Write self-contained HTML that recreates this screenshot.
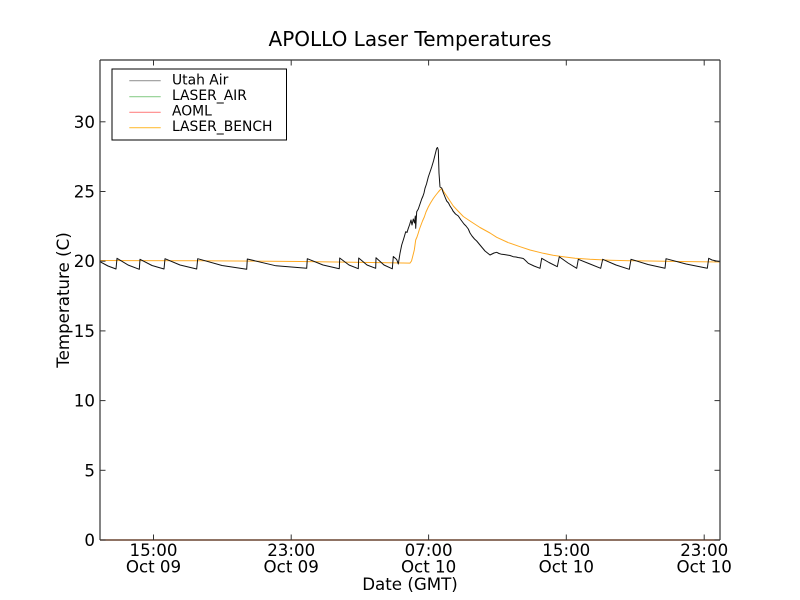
<!DOCTYPE html>
<html>
<head>
<meta charset="utf-8">
<style>
html,body{margin:0;padding:0;background:#fff;}
svg{display:block;}
text{font-family:"DejaVu Sans","Liberation Sans",sans-serif;fill:#000;}
</style>
</head>
<body>
<svg width="800" height="600" viewBox="0 0 800 600" xmlns="http://www.w3.org/2000/svg">
<rect x="0" y="0" width="800" height="600" fill="#fff"/>
<rect x="100" y="60" width="620" height="480" fill="#fff"/>

<!-- LASER_BENCH (orange) -->
<polyline fill="none" stroke="#ffaa22" stroke-width="1" stroke-linejoin="round"
points="100,260.5 200,260.8 300,261.5 380,262.6 410,263.1 411.5,261 412.3,258 413.3,254 414.3,250 415,245 415.7,240 417,237 418.3,233 419.5,229 421,225 422.5,221 424.3,217 426,212 428.3,207 430.5,203 433.3,198.5 435.5,195.5 438.3,192 440,190 441.7,188.3 444,192 446.7,196 450,201 453.3,206 458,211 463.3,216.5 470,221 480,227.5 490,233 496.7,237.3 508,242.5 520,246.7 530,250 543.3,253.3 553,255.2 563.3,256.7 575,258.2 590,259.3 610,260.2 630,260.7 680,261.5 720,262"/>

<!-- Utah Air (black) -->
<polyline fill="none" stroke="#111" stroke-width="1" stroke-linejoin="round"
points="100,261.7 108,266 116,269 117,258.3 128,265 139.3,269.3 140,259.3 152,265.5 164,269 165,258.7 180,265 196.7,269 197.7,258.7 222,265.5 246.7,269.3 247.3,259 276,265.8 306.7,268.3 307.3,258.7 323,265 339.3,268.7 339.7,258 349,265 358.3,268.7 358.7,258 367,265 375.7,268.3 376,257.7 384,265 392.3,268.8 393.3,256.5 396.7,259.5 398.3,264 400,253.3 401.7,245 403.3,240 404.5,236 405.7,231.7 407,232.5 408.3,228.3 409.5,225 411,220 412,225 413.3,219 414.5,223 415.3,216 415.7,228.3 416.7,211.7 418.3,209 420,204 421.7,199 423,196 424,193 425,188.3 426.5,184 428.3,177 430,172 431.7,167 433.5,161 435,155 436.7,148.3 437.5,147.5 438.3,150 439,173 440,187 441.7,188 443,192 445,197 446.7,201 448.5,203 450,206 452,209 453,211 455.5,214 458.3,216 461,220 464,224 466,226 468.3,229 470,233 472,236 474.5,239 476.7,241 480,245 482.5,248 485,251 487.5,253 490,255 492,254 494,253 496.7,252.3 499,253.5 501.7,254.3 504,254.5 507,255 510,255.5 513.3,256.7 516,257 518,257.5 521,258 523.3,258.5 525.5,260.5 528.3,263.3 534,266 540,268.3 541.7,258.3 549,262.5 557.3,266.7 559.3,256.7 561,258 568,263 576.7,268.3 578.3,259.3 590,264 600.7,268.3 602.7,259.3 616,265 629.3,269.3 631,259.3 648,264.5 665,268.3 666,258.7 686,264 707.3,268.3 708.7,258.3 712,260 720,261.7"/>

<!-- spines -->
<line x1="100" y1="60" x2="720" y2="60" stroke="#333" stroke-width="1.2"/>
<line x1="100" y1="60" x2="100" y2="540" stroke="#333" stroke-width="1.2"/>
<line x1="720" y1="60" x2="720" y2="540" stroke="#333" stroke-width="1.2"/>
<line x1="100" y1="540" x2="720" y2="540" stroke="#6a4530" stroke-width="1.4"/>

<!-- y ticks -->
<g stroke="#333" stroke-width="1">
<line x1="100" y1="540" x2="105.5" y2="540"/><line x1="720" y1="540" x2="714.5" y2="540"/>
<line x1="100" y1="470.3" x2="105.5" y2="470.3"/><line x1="720" y1="470.3" x2="714.5" y2="470.3"/>
<line x1="100" y1="400.6" x2="105.5" y2="400.6"/><line x1="720" y1="400.6" x2="714.5" y2="400.6"/>
<line x1="100" y1="330.9" x2="105.5" y2="330.9"/><line x1="720" y1="330.9" x2="714.5" y2="330.9"/>
<line x1="100" y1="261.2" x2="105.5" y2="261.2"/><line x1="720" y1="261.2" x2="714.5" y2="261.2"/>
<line x1="100" y1="191.5" x2="105.5" y2="191.5"/><line x1="720" y1="191.5" x2="714.5" y2="191.5"/>
<line x1="100" y1="121.8" x2="105.5" y2="121.8"/><line x1="720" y1="121.8" x2="714.5" y2="121.8"/>
<!-- x ticks -->
<line x1="153.5" y1="540" x2="153.5" y2="534.5"/><line x1="153.5" y1="60" x2="153.5" y2="65.5"/>
<line x1="291.2" y1="540" x2="291.2" y2="534.5"/><line x1="291.2" y1="60" x2="291.2" y2="65.5"/>
<line x1="428.6" y1="540" x2="428.6" y2="534.5"/><line x1="428.6" y1="60" x2="428.6" y2="65.5"/>
<line x1="566.3" y1="540" x2="566.3" y2="534.5"/><line x1="566.3" y1="60" x2="566.3" y2="65.5"/>
<line x1="704.2" y1="540" x2="704.2" y2="534.5"/><line x1="704.2" y1="60" x2="704.2" y2="65.5"/>
</g>

<!-- y tick labels -->
<g font-size="16.67" text-anchor="end">
<text x="95" y="546">0</text>
<text x="95" y="476.3">5</text>
<text x="95" y="406.6">10</text>
<text x="95" y="336.9">15</text>
<text x="95" y="267.2">20</text>
<text x="95" y="197.5">25</text>
<text x="95" y="127.8">30</text>
</g>

<!-- x tick labels -->
<g font-size="16.67" text-anchor="middle">
<text x="153.5" y="556">15:00</text><text x="153.5" y="572.5">Oct 09</text>
<text x="291.2" y="556">23:00</text><text x="291.2" y="572.5">Oct 09</text>
<text x="428.6" y="556">07:00</text><text x="428.6" y="572.5">Oct 10</text>
<text x="566.3" y="556">15:00</text><text x="566.3" y="572.5">Oct 10</text>
<text x="704.2" y="556">23:00</text><text x="704.2" y="572.5">Oct 10</text>
</g>

<!-- axis labels & title -->
<text x="410" y="590" font-size="16.67" text-anchor="middle">Date (GMT)</text>
<text x="0" y="0" font-size="16.67" text-anchor="middle" transform="translate(69,300) rotate(-90)">Temperature (C)</text>
<text x="410" y="46" font-size="20" text-anchor="middle">APOLLO Laser Temperatures</text>

<!-- legend -->
<rect x="112" y="69" width="174.5" height="71" fill="#fff" stroke="#000" stroke-width="1"/>
<line x1="129.3" y1="80.7" x2="160.7" y2="80.7" stroke="#999" stroke-width="1.2"/>
<line x1="129.3" y1="96.7" x2="160.7" y2="96.7" stroke="#8fcf8f" stroke-width="1.2"/>
<line x1="129.3" y1="112.3" x2="160.7" y2="112.3" stroke="#ff8888" stroke-width="1.2"/>
<line x1="129.3" y1="127.7" x2="160.7" y2="127.7" stroke="#ffc040" stroke-width="1.2"/>
<g font-size="13.89">
<text x="172" y="84.5">Utah Air</text>
<text x="172" y="100.2">LASER_AIR</text>
<text x="172" y="115.7">AOML</text>
<text x="172" y="131">LASER_BENCH</text>
</g>
</svg>
</body>
</html>
